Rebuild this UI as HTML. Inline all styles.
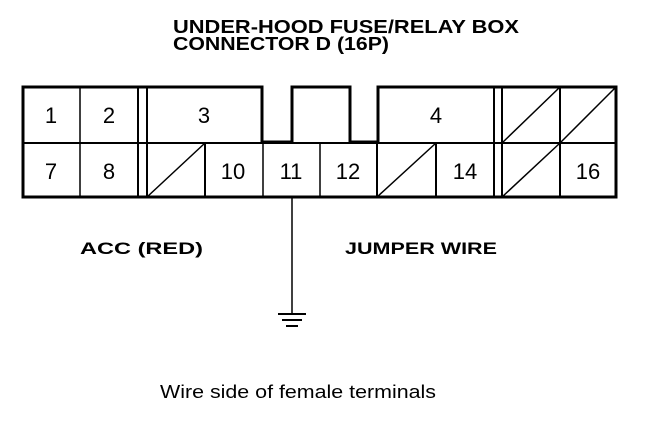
<!DOCTYPE html>
<html><head><meta charset="utf-8"><style>html,body{margin:0;padding:0;background:#fff}</style></head>
<body>
<svg width="672" height="416" viewBox="0 0 672 416" xmlns="http://www.w3.org/2000/svg" font-family="Liberation Sans, sans-serif">
<rect width="672" height="416" fill="#fff"/>
<g font-weight="bold" font-size="18" fill="#000">
<text x="173" y="33" textLength="346" lengthAdjust="spacingAndGlyphs">UNDER-HOOD FUSE/RELAY BOX</text>
<text x="173" y="50" textLength="216" lengthAdjust="spacingAndGlyphs">CONNECTOR D (16P)</text>
<text x="80" y="254" font-size="17" textLength="123" lengthAdjust="spacingAndGlyphs">ACC (RED)</text>
<text x="345" y="254" font-size="17" textLength="152" lengthAdjust="spacingAndGlyphs">JUMPER WIRE</text>
</g>
<text x="160" y="398" font-size="18" textLength="276" lengthAdjust="spacingAndGlyphs">Wire side of female terminals</text>
<g stroke="#000" fill="none">
<path d="M23 87 H262 V142 H292 V87 H350 V142 H378 V87 H616 V197 H23 Z" stroke-width="3"/>
<line x1="23" y1="143" x2="616" y2="143" stroke-width="2"/>
<line x1="80" y1="87" x2="80" y2="197" stroke-width="1.5"/>
<line x1="138" y1="87" x2="138" y2="197" stroke-width="2"/>
<line x1="147" y1="87" x2="147" y2="197" stroke-width="2"/>
<line x1="205" y1="143" x2="205" y2="197" stroke-width="2"/>
<line x1="263" y1="143" x2="263" y2="197" stroke-width="1.5"/>
<line x1="320" y1="143" x2="320" y2="197" stroke-width="1.5"/>
<line x1="377" y1="143" x2="377" y2="197" stroke-width="2"/>
<line x1="436" y1="143" x2="436" y2="197" stroke-width="2"/>
<line x1="494" y1="87" x2="494" y2="197" stroke-width="2"/>
<line x1="502" y1="87" x2="502" y2="197" stroke-width="2"/>
<line x1="560" y1="87" x2="560" y2="197" stroke-width="2"/>
<g stroke-width="1.5">
<line x1="147" y1="197" x2="205" y2="143"/>
<line x1="377" y1="197" x2="436" y2="143"/>
<line x1="502" y1="143" x2="560" y2="87"/>
<line x1="560" y1="143" x2="616" y2="87"/>
<line x1="502" y1="197" x2="560" y2="143"/>
</g>
<line x1="292" y1="197" x2="292" y2="313" stroke-width="1.5"/>
<line x1="278" y1="314" x2="306" y2="314" stroke-width="2"/>
<line x1="282" y1="320" x2="302" y2="320" stroke-width="2"/>
<line x1="286" y1="326" x2="298" y2="326" stroke-width="2"/>
</g>
<g font-size="22" fill="#000" text-anchor="middle">
<text x="51" y="123">1</text>
<text x="109" y="123">2</text>
<text x="204" y="123">3</text>
<text x="436" y="123">4</text>
<text x="51" y="179">7</text>
<text x="109" y="179">8</text>
<text x="233" y="179">10</text>
<text x="291" y="179">11</text>
<text x="348" y="179">12</text>
<text x="465" y="179">14</text>
<text x="588" y="179">16</text>
</g>
</svg>
</body></html>
